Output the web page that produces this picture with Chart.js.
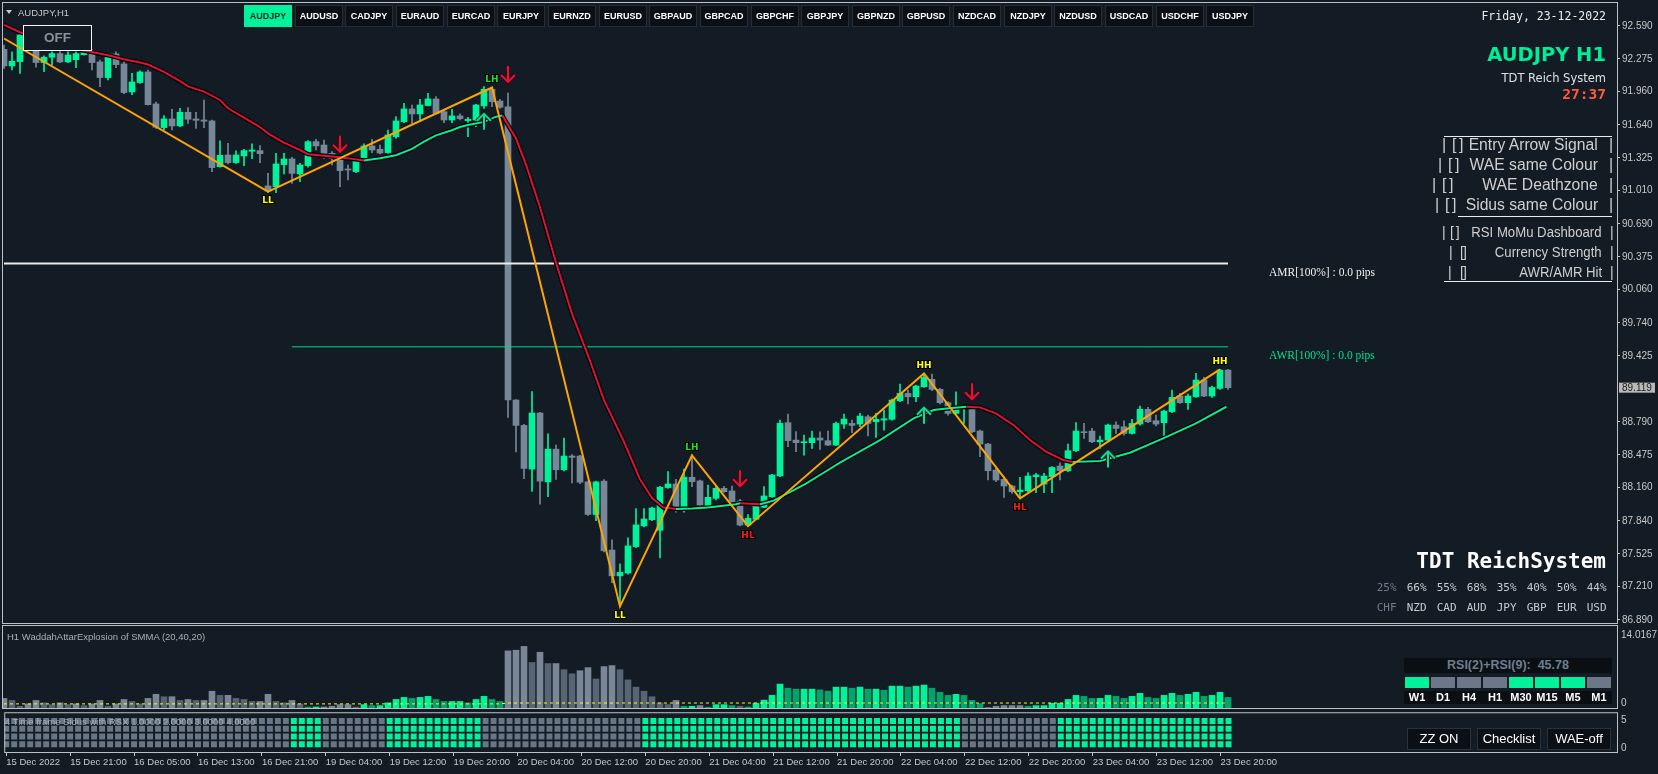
<!DOCTYPE html>
<html lang="en">
<head>
<meta charset="utf-8">
<title>AUDJPY,H1</title>
<script src="https://cdn.jsdelivr.net/npm/chart.js"></script>
<style>
  html, body { margin: 0; padding: 0; }
  body { width: 1658px; height: 774px; background: #131b24; position: relative; overflow: hidden;
         font-family: "Liberation Sans", Arial, sans-serif; color: #c8c8c8; }
  canvas { position: absolute; left: 0; }
  .t { position: absolute; white-space: nowrap; line-height: 1; }
  .pair { position: absolute; top: 5px; width: 48px; height: 22px; box-sizing: border-box; background: #0b1016;
          border: 1px solid #262d35; color: #fff; font: bold 9px "Liberation Sans", Arial, sans-serif;
          line-height: 20px; text-align: center; }
  .pair.on { background: #00f29a; border-color: #00f29a; color: #0b2a1d; }
  .btn { position: absolute; top: 728px; width: 64px; height: 22px; box-sizing: border-box; background: #0b1016;
         border: 1px solid #2a3139; color: #fff; font: 13px "Liberation Sans", Arial, sans-serif;
         line-height: 20px; text-align: center; }
  .rule { position: absolute; height: 1px; background: #ececec; }
</style>
</head>
<body>
<canvas id="priceChart" width="1658" height="630" style="top:0"></canvas>
<canvas id="waeChart" width="1658" height="86" style="top:625px"></canvas>
<canvas id="sidusChart" width="1658" height="65" style="top:709px"></canvas>

<script>
// ---- data ----
const symbol = 'AUDJPY,H1';
const pairs = ['AUDJPY','AUDUSD','CADJPY','EURAUD','EURCAD','EURJPY','EURNZD','EURUSD','GBPAUD','GBPCAD',
               'GBPCHF','GBPJPY','GBPNZD','GBPUSD','NZDCAD','NZDJPY','NZDUSD','USDCAD','USDCHF','USDJPY'];

const opens = [92.366,92.207,92.248,92.504,92.366,92.239,92.290,92.325,92.245,92.267,
  92.315,92.350,92.245,92.095,92.322,92.226,91.957,92.047,92.149,91.842,
  91.615,91.698,91.631,91.762,91.698,91.688,91.679,91.240,91.352,91.279,
  91.343,91.388,91.394,91.055,91.048,91.260,91.314,91.170,91.250,91.480,
  91.448,91.368,91.320,91.218,91.192,91.298,91.439,91.407,91.375,91.528,
  91.672,91.794,91.746,91.826,91.890,91.768,91.688,91.727,91.682,91.688,
  91.823,91.982,91.870,91.814,89.001,88.757,88.338,88.876,88.215,88.529,
  88.331,88.463,88.463,88.215,87.902,88.222,87.561,87.313,87.340,87.594,
  87.792,87.852,87.750,88.160,88.195,87.950,88.259,88.224,87.971,88.057,
  88.153,88.128,88.032,87.801,87.856,87.971,88.073,88.272,88.783,88.616,
  88.591,88.591,88.636,88.610,88.568,88.770,88.776,88.770,88.840,88.792,
  88.808,88.815,88.994,89.064,89.032,89.128,89.199,89.103,88.975,88.872,
  88.920,88.930,88.703,88.578,88.328,88.239,88.175,88.121,88.130,88.265,
  88.194,88.265,88.367,88.322,88.514,88.696,88.703,88.600,88.616,88.760,
  88.744,88.680,88.770,88.911,88.802,88.783,88.888,89.039,88.975,89.032,
  89.192,89.039,89.112,89.288];
const highs = [92.408,92.341,92.520,92.550,92.392,92.303,92.341,92.344,92.341,92.350,
  92.376,92.366,92.264,92.328,92.341,92.248,92.136,92.159,92.168,91.861,
  91.730,91.791,91.800,91.807,91.762,91.880,91.688,91.487,91.464,91.391,
  91.407,91.458,91.442,91.176,91.368,91.368,91.330,91.272,91.490,91.503,
  91.496,91.384,91.343,91.256,91.330,91.458,91.503,91.448,91.592,91.720,
  91.848,91.832,91.886,91.944,91.912,91.790,91.790,91.746,91.714,91.838,
  92.008,92.002,91.886,91.946,89.005,88.767,89.081,88.883,88.675,88.569,
  88.635,88.476,88.470,88.222,88.222,88.238,87.660,87.429,87.677,87.958,
  87.958,87.974,88.172,88.313,88.239,88.338,88.473,88.233,88.185,88.169,
  88.172,88.175,88.047,87.901,87.987,88.169,88.288,88.807,88.866,88.697,
  88.664,88.703,88.696,88.703,88.789,88.866,88.808,88.872,88.856,88.872,
  88.904,89.010,89.154,89.096,89.144,89.256,89.250,89.112,88.984,89.080,
  88.943,88.943,88.712,88.584,88.344,88.265,88.185,88.258,88.303,88.297,
  88.297,88.361,88.399,88.578,88.783,88.776,88.728,88.655,88.770,88.792,
  88.802,88.815,88.943,88.930,88.856,88.904,89.096,89.064,89.058,89.256,
  89.218,89.135,89.295,89.295];
const lows = [92.184,92.168,92.136,92.360,92.194,92.152,92.213,92.239,92.239,92.191,
  92.309,92.168,92.008,92.072,92.191,91.941,91.931,92.040,91.829,91.608,
  91.592,91.592,91.624,91.656,91.608,91.615,91.192,91.234,91.266,91.272,
  91.250,91.317,91.279,90.991,90.991,91.170,91.080,91.096,91.234,91.400,
  91.320,91.256,91.048,91.112,91.183,91.288,91.375,91.362,91.368,91.512,
  91.663,91.656,91.672,91.823,91.746,91.663,91.663,91.688,91.528,91.624,
  91.800,91.816,91.800,88.833,88.503,88.245,88.123,88.001,88.073,88.239,
  88.321,88.205,88.199,87.892,87.842,87.544,87.247,87.016,87.330,87.584,
  87.783,87.842,87.485,88.153,87.925,87.925,88.169,87.984,87.961,88.041,
  88.113,88.016,87.792,87.792,87.849,87.968,88.067,88.265,88.553,88.505,
  88.472,88.536,88.527,88.562,88.562,88.728,88.687,88.744,88.655,88.642,
  88.712,88.808,88.984,88.962,88.984,89.122,89.090,88.962,88.856,88.866,
  88.776,88.687,88.456,88.233,88.217,88.066,88.105,88.057,88.121,88.111,
  88.111,88.111,88.233,88.313,88.504,88.632,88.591,88.536,88.600,88.680,
  88.664,88.674,88.760,88.783,88.751,88.648,88.879,88.968,88.911,89.026,
  89.032,89.026,89.103,89.103];
const closes = [92.207,92.251,92.504,92.380,92.239,92.290,92.325,92.245,92.312,92.325,
  92.350,92.239,92.095,92.322,92.219,91.951,92.053,92.149,91.835,91.618,
  91.698,91.631,91.762,91.695,91.685,91.676,91.231,91.349,91.279,91.352,
  91.394,91.400,91.365,91.007,91.266,91.314,91.176,91.256,91.480,91.439,
  91.362,91.317,91.202,91.208,91.304,91.439,91.400,91.371,91.544,91.679,
  91.794,91.746,91.832,91.890,91.752,91.688,91.727,91.701,91.695,91.832,
  91.982,91.864,91.810,89.001,88.757,88.344,88.876,88.222,88.529,88.331,
  88.463,88.450,88.212,87.902,88.215,87.554,87.313,87.346,87.601,87.802,
  87.859,87.964,88.163,88.195,87.945,88.259,88.217,87.993,88.067,88.153,
  88.121,88.025,87.801,87.865,87.984,88.080,88.281,88.777,88.611,88.591,
  88.597,88.636,88.616,88.568,88.776,88.818,88.757,88.847,88.776,88.815,
  88.821,89.000,89.064,89.032,89.135,89.218,89.103,88.975,88.872,88.930,
  88.936,88.696,88.578,88.322,88.233,88.175,88.121,88.137,88.271,88.281,
  88.271,88.354,88.323,88.514,88.703,88.687,88.600,88.616,88.760,88.728,
  88.680,88.776,88.911,88.792,88.770,88.895,89.026,88.975,89.039,89.192,
  89.039,89.122,89.288,89.119];

// smoothed average, sampled where it was traced
const maBars = [0,2,5,8,11,13,15,17,18,20,22,23,25,27,28,30,32,33,35,37,38,40,42,44,45,47,49,51,52.5,54,
  56,57,58,60,61.5,62.3,64,65.3,67,69,71,73,75,77.5,79.5,81,82.4,84,86,88,91.5,92,94.5,96.2,98.3,100.3,
  102.4,104.5,109.5,113.7,116.2,117.8,120.3,122,124,126.2,128.25,130.3,132.4,133.6,137,140.75,144.9,149,152.8];
const maValues = [92.60,92.53,92.46,92.38,92.34,92.31,92.27,92.24,92.22,92.15,92.06,92.01,91.96,91.88,91.80,
  91.71,91.62,91.56,91.47,91.40,91.36,91.345,91.33,91.31,91.30,91.32,91.35,91.41,91.48,91.54,91.59,91.62,
  91.64,91.67,91.72,91.73,91.51,91.25,90.85,90.32,89.83,89.43,89.00,88.60,88.24,88.06,87.97,87.955,87.96,
  87.97,88.00,88.01,88.00,88.035,88.12,88.20,88.30,88.40,88.616,88.824,88.904,88.920,88.936,88.93,88.872,
  88.76,88.616,88.504,88.424,88.405,88.415,88.495,88.632,88.776,88.936];

const zzBars = [0, 33, 61, 77, 86, 93, 115, 127, 152];
const zzPrices = [92.47, 91.00, 92.00, 87.02, 88.47, 87.79, 89.256, 88.057, 89.295];
const zzTags = ['', 'LL', 'LH', 'LL', 'LH', 'HL', 'HH', 'HL', 'HH'];

const downArrowBars = [42, 63, 92, 121];
const downArrowPrices = [91.46, 92.13, 88.25, 89.085];
const upArrowBars = [60, 115, 138];
const upArrowPrices = [91.67, 88.85, 88.43];

const amrLevel = 90.31, awrLevel = 89.511;
const amrStartBar = 0, awrStartBar = 36, levelEndBar = 153;

const priceTicks = [92.590,92.275,91.960,91.640,91.325,91.010,90.690,90.375,90.060,89.740,89.425,
  88.790,88.475,88.160,87.840,87.525,87.210,86.890];
const timeTickBars = [0,8,16,24,32,40,48,56,64,72,80,88,96,104,112,120,128,136,144,152];
const timeLabels = ['15 Dec 2022','15 Dec 21:00','16 Dec 05:00','16 Dec 13:00','16 Dec 21:00','19 Dec 04:00',
  '19 Dec 12:00','19 Dec 20:00','20 Dec 04:00','20 Dec 12:00','20 Dec 20:00','21 Dec 04:00','21 Dec 12:00',
  '21 Dec 20:00','22 Dec 04:00','22 Dec 12:00','22 Dec 20:00','23 Dec 04:00','23 Dec 12:00','23 Dec 20:00'];

const waeValues = [1.64,1.29,0.30,0.70,1.29,0.88,0.58,0.88,0.58,0.70,
  0.41,0.70,1.29,0.30,0.70,1.46,1.11,0.70,1.64,2.34,
  1.93,1.93,1.29,1.46,1.29,1.29,2.87,2.16,2.16,1.64,
  1.46,1.11,1.11,2.34,1.11,0.88,1.29,0.70,0.18,0.18,
  0.18,0.30,0.58,0.58,0.18,0.58,0.41,0.41,0.88,1.46,
  1.81,1.64,1.81,1.99,1.46,1.11,1.11,1.11,0.88,1.46,
  1.99,1.46,1.11,9.77,9.88,10.53,7.78,9.53,7.60,7.60,
  6.55,5.85,6.37,6.90,4.97,7.08,7.25,6.55,4.80,3.57,
  2.87,1.93,0.88,0.58,1.29,0.30,0.30,0.41,0.12,0.58,
  0.58,0.41,0.30,0.18,0.82,1.35,2.16,4.09,3.39,3.22,
  3.22,3.22,3.10,2.87,3.57,3.57,3.39,3.57,3.22,3.22,
  3.04,3.74,3.74,3.57,3.74,3.92,3.39,2.69,2.16,2.34,
  2.16,1.29,0.76,0.12,0.30,0.41,0.41,0.41,0.30,0.41,
  0.41,0.82,0.82,1.46,2.16,1.99,1.64,1.64,2.16,1.99,
  1.64,1.99,2.51,1.81,1.64,2.16,2.51,2.16,2.34,2.69,
  1.99,2.16,2.69,1.81];
const waeUpRanges = [[38,39],[45,62],[85,86],[88,91],[93,122],[128,153]];
const waeDeadBars = [0, 62, 63, 153];
const waeDeadValues = [0.70, 0.70, 0.85, 0.85];
const waeMax = 14.0167;

const sidusGreenRanges = [[36,39],[48,59],[80,119],[132,153]];
const sidusRows = [1, 2, 3, 4];

const currencyNames = ['CHF','NZD','CAD','AUD','JPY','GBP','EUR','USD'];
const currencyPct = [25, 66, 55, 68, 35, 40, 50, 44];
const rsiFrames = ['W1','D1','H4','H1','M30','M15','M5','M1'];
const rsiUp = [1, 0, 0, 0, 1, 1, 1, 0];
const rsiValue = 45.78;
const checklistItems = ['Entry Arrow Signal','WAE same Colour','WAE Deathzone','Sidus same Colour',
  'RSI MoMu Dashboard','Currency Strength','AWR/AMR Hit'];
const panelButtons = ['ZZ ON','Checklist','WAE-off'];

// ---- helpers ----
const GREEN = '#00f29a', GREY = '#778899', AXIS = '#c8c8c8';
const FONT = '"Liberation Sans", Arial, sans-serif';
const X_MIN = -0.25, X_MAX = 201.625;
const inRanges = (i, ranges) => ranges.some(r => i >= r[0] && i <= r[1]);

const framePlugin = {
  id: 'frame',
  afterDraw(chart) {
    const { ctx, chartArea: a } = chart;
    ctx.save();
    ctx.strokeStyle = '#bcc1c6';
    ctx.lineWidth = 1;
    ctx.strokeRect(a.left + 0.5, a.top - 0.5, a.right - a.left, a.bottom - a.top + 1);
    ctx.restore();
  }
};

function drawDown(ctx, px, py) {
  [['#3a0008', 4], ['#e0143c', 2]].forEach(([c, w]) => {
    ctx.strokeStyle = c; ctx.lineWidth = w;
    ctx.beginPath();
    ctx.moveTo(px, py - 8); ctx.lineTo(px, py + 8);
    ctx.moveTo(px - 7, py + 1); ctx.lineTo(px, py + 8); ctx.lineTo(px + 7, py + 1);
    ctx.stroke();
  });
}
function drawUp(ctx, px, py) {
  [['#05291d', 4], ['#19d596', 2]].forEach(([c, w]) => {
    ctx.strokeStyle = c; ctx.lineWidth = w;
    ctx.beginPath();
    ctx.moveTo(px, py + 8); ctx.lineTo(px, py - 8);
    ctx.moveTo(px - 7, py - 1); ctx.lineTo(px, py - 8); ctx.lineTo(px + 7, py - 1);
    ctx.stroke();
  });
}

const marksPlugin = {
  id: 'marks',
  afterDatasetsDraw(chart) {
    const { ctx, scales: { x, y }, chartArea } = chart;
    ctx.save();
    // AMR / AWR captions
    const capX = x.getPixelForValue(levelEndBar) + 41;
    ctx.font = '11.5px "Liberation Serif", serif';
    ctx.textBaseline = 'middle';
    ctx.textAlign = 'left';
    ctx.fillStyle = '#f0f0f0';
    ctx.fillText('AMR[100%] : 0.0 pips', capX, y.getPixelForValue(amrLevel) + 9);
    ctx.fillStyle = '#00e08f';
    ctx.fillText('AWR[100%] : 0.0 pips', capX, y.getPixelForValue(awrLevel) + 9);

    // arrows
    downArrowBars.forEach((b, i) => drawDown(ctx, x.getPixelForValue(b), y.getPixelForValue(downArrowPrices[i])));
    upArrowBars.forEach((b, i) => drawUp(ctx, x.getPixelForValue(b), y.getPixelForValue(upArrowPrices[i])));

    // zigzag swing tags
    ctx.font = 'bold 9px "DejaVu Sans", sans-serif';
    ctx.textAlign = 'center';
    const tagColor = { LL: '#ffff00', HH: '#ffff00', LH: '#22dd22', HL: '#ff1a1a' };
    zzTags.forEach((tag, i) => {
      if (!tag) return;
      const px = x.getPixelForValue(zzBars[i]);
      const py = y.getPixelForValue(zzPrices[i]) + (tag[1] === 'H' ? -8 : 9);
      ctx.lineWidth = 2; ctx.strokeStyle = '#000';
      ctx.strokeText(tag, px, py);
      ctx.fillStyle = tagColor[tag];
      ctx.fillText(tag, px, py);
    });

    // current price box on the axis
    const last = closes[closes.length - 1];
    const py = y.getPixelForValue(last);
    ctx.fillStyle = '#b9b9b9';
    ctx.fillRect(chartArea.right + 2, py - 5, 36, 10);
    ctx.fillStyle = '#202020';
    ctx.font = '10px ' + FONT;
    ctx.textAlign = 'left';
    ctx.fillText(last.toFixed(3), chartArea.right + 5, py + 0.5);
    ctx.restore();
  }
};

Chart.defaults.animation = false;
Chart.defaults.font.family = FONT;
Chart.defaults.plugins.legend.display = false;
Chart.defaults.plugins.tooltip.enabled = false;

const xHidden = { type: 'linear', min: X_MIN, max: X_MAX, display: false, offset: false, grid: { offset: false } };
const plainRightAxis = (min, max) => ({
  type: 'linear', position: 'right', min, max, beginAtZero: false,
  ticks: { display: false }, grid: { display: false }, border: { display: false },
  afterFit(s) { s.width = 41; s.paddingTop = 0; s.paddingBottom = 0; }
});

// ---- main price chart ----
const candleColors = closes.map((c, i) => c >= opens[i] ? GREEN : GREY);
const xy = (bars, vals) => bars.map((b, i) => ({ x: b, y: vals[i] }));

new Chart(document.getElementById('priceChart'), {
  type: 'bar',
  data: {
    datasets: [
      { label: 'zigzag', type: 'line', order: 1, data: xy(zzBars, zzPrices),
        borderColor: '#ffa500', borderWidth: 2, pointRadius: 0 },
      { label: 'MA', type: 'line', order: 2, data: xy(maBars, maValues), borderWidth: 2, pointRadius: 0,
        borderColor: GREEN,
        segment: { borderColor: c => c.p1.parsed.y < c.p0.parsed.y ? '#e0103c' : '#00ee98' } },
      { label: 'MA edge', type: 'line', order: 3, data: xy(maBars, maValues), borderWidth: 4.5,
        borderColor: '#000000', pointRadius: 0 },
      { label: 'AMR', type: 'line', order: 4, data: [{ x: amrStartBar, y: amrLevel }, { x: levelEndBar, y: amrLevel }],
        borderColor: '#ececec', borderWidth: 2, pointRadius: 0 },
      { label: 'AWR', type: 'line', order: 4, data: [{ x: awrStartBar, y: awrLevel }, { x: levelEndBar, y: awrLevel }],
        borderColor: '#00d98a', borderWidth: 1, pointRadius: 0 },
      { label: 'body', order: 5, grouped: false, barThickness: 6, minBarLength: 1,
        data: opens.map((o, i) => ({ x: i, y: [o, closes[i]] })),
        backgroundColor: candleColors, borderWidth: 0 },
      { label: 'wick', order: 6, grouped: false, barThickness: 1,
        data: lows.map((l, i) => ({ x: i, y: [l, highs[i]] })),
        backgroundColor: candleColors, borderWidth: 0 }
    ]
  },
  options: {
    responsive: false,
    layout: { padding: { left: 2, top: 3, right: 0, bottom: 7 } },
    scales: {
      x: xHidden,
      y: {
        type: 'linear', position: 'right', min: 86.8607, max: 92.8107, beginAtZero: false,
        afterBuildTicks(s) { s.ticks = priceTicks.map(v => ({ value: v })); },
        ticks: { color: AXIS, padding: 2, font: { size: 10 }, callback: v => Number(v).toFixed(3) },
        grid: { display: true, drawOnChartArea: false, drawTicks: true, tickLength: 3, color: AXIS },
        border: { display: false },
        afterFit(s) { s.width = 41; s.paddingTop = 0; s.paddingBottom = 0; }
      }
    }
  },
  plugins: [framePlugin, marksPlugin]
});

// ---- WAE histogram ----
const waeColors = waeValues.map((v, i) => {
  const rising = i === 0 || v >= waeValues[i - 1];
  if (inRanges(i, waeUpRanges)) return rising ? '#00f29a' : '#00a46d';
  return rising ? '#7a8797' : '#566473';
});
new Chart(document.getElementById('waeChart'), {
  type: 'bar',
  data: {
    datasets: [
      { label: 'dead zone', type: 'line', order: 1, data: xy(waeDeadBars, waeDeadValues),
        borderColor: '#ffff00', borderWidth: 1, borderDash: [3, 3], pointRadius: 0 },
      { label: 'explosion', order: 2, grouped: false, barThickness: 6,
        data: waeValues.map((v, i) => ({ x: i, y: v })), backgroundColor: waeColors, borderWidth: 0 }
    ]
  },
  options: {
    responsive: false,
    layout: { padding: { left: 2, top: 1, right: 0, bottom: 3 } },
    scales: { x: xHidden, y: plainRightAxis(0, waeMax) }
  },
  plugins: [framePlugin]
});

// ---- 4 time frame Sidus grid ----
new Chart(document.getElementById('sidusChart'), {
  type: 'scatter',
  data: {
    datasets: sidusRows.map(row => ({
      label: 'row ' + row,
      data: closes.map((c, i) => ({ x: i, y: row })),
      pointStyle: 'rect', pointRadius: 4.24, pointBorderWidth: 0,
      pointBackgroundColor: closes.map((c, i) => inRanges(i, sidusGreenRanges) ? GREEN : '#687584')
    }))
  },
  options: {
    responsive: false,
    layout: { padding: { left: 2, top: 2, right: 0, bottom: 0 } },
    scales: {
      x: {
        type: 'linear', min: X_MIN, max: X_MAX, offset: false,
        afterBuildTicks(s) { s.ticks = timeTickBars.map(v => ({ value: v })); },
        ticks: { align: 'start', maxRotation: 0, autoSkip: false, padding: 1, color: AXIS,
                 font: { size: 9.5 }, callback: (v, i) => timeLabels[i] },
        grid: { display: true, drawOnChartArea: false, drawTicks: true, tickLength: 4, color: AXIS },
        border: { display: false },
        afterFit(s) { s.height = 22; s.paddingLeft = 0; s.paddingRight = 0; }
      },
      y: plainRightAxis(0, 5)
    }
  },
  plugins: [framePlugin]
});

// ---- text panels ----
function put(text, css) {
  const el = document.createElement('div');
  el.className = 't';
  el.textContent = text;
  Object.assign(el.style, css);
  document.body.appendChild(el);
  return el;
}
function box(cls, text, css) {
  const el = put(text, css);
  el.className = cls;
  return el;
}
const mono = '"DejaVu Sans Mono", monospace';

// symbol caption and OFF switch
const tri = document.createElement('div');
Object.assign(tri.style, { position: 'absolute', left: '6px', top: '10px', width: 0, height: 0,
  borderLeft: '3px solid transparent', borderRight: '3px solid transparent', borderTop: '4px solid #c8c8c8' });
document.body.appendChild(tri);
put(symbol, { left: '18px', top: '7px', font: '9.5px ' + FONT, color: '#c8c8c8' });
put('OFF', { left: '23px', top: '25px', width: '69px', height: '26px', boxSizing: 'border-box',
  border: '1px solid #f4f4f4', background: '#131b24', color: '#8c9197', font: 'bold 13.5px ' + FONT,
  lineHeight: '24px', textAlign: 'center' });

// pair buttons
pairs.forEach((p, i) => box('pair' + (i === 0 ? ' on' : ''), p, { left: Math.round(244 + i * 50.65) + 'px' }));

// header on the right
put('Friday, 23-12-2022', { right: '52px', top: '9px', font: '11.5px ' + mono, color: '#ececec' });
put('AUDJPY H1', { right: '52px', top: '43px', font: 'bold 19.5px "DejaVu Sans", sans-serif', color: '#00ec97' });
put('TDT Reich System', { right: '52px', top: '71px', font: '11.5px "DejaVu Sans", sans-serif', color: '#dde1e5' });
put('27:37', { right: '52px', top: '86px', font: 'bold 14.5px ' + mono, color: '#ff5a3c' });

// checklist
const checkRows = [
  { cy: 144, size: 16, sx: 0.98, pipe: 1442, mark: '[ ]', markX: 1452, end: 1598, pipeR: 1609 },
  { cy: 164, size: 16, sx: 0.98, pipe: 1438, mark: '[ ]', markX: 1448, end: 1598, pipeR: 1609 },
  { cy: 184, size: 16, sx: 0.98, pipe: 1432, mark: '[ ]', markX: 1442, end: 1598, pipeR: 1609 },
  { cy: 204, size: 16, sx: 0.98, pipe: 1435, mark: '[ ]', markX: 1445, end: 1598, pipeR: 1609 },
  { cy: 231, size: 14, sx: 0.94, pipe: 1442, mark: '[ ]', markX: 1450, end: 1602, pipeR: 1610 },
  { cy: 251, size: 14, sx: 0.94, pipe: 1449, mark: '[]', markX: 1460, end: 1602, pipeR: 1610 },
  { cy: 271, size: 14, sx: 0.94, pipe: 1448, mark: '[]', markX: 1460, end: 1602, pipeR: 1610 }
];
checklistItems.forEach((label, i) => {
  const r = checkRows[i];
  const base = { top: (r.cy - 0.49 * r.size) + 'px', font: r.size + 'px ' + FONT, color: '#cfcfcf' };
  put('|', Object.assign({ left: r.pipe + 'px' }, base));
  put(r.mark, Object.assign({ left: r.markX + 'px', letterSpacing: '-1px' }, base));
  put(label, Object.assign({ right: (1658 - r.end) + 'px', transform: 'scaleX(' + r.sx + ')',
    transformOrigin: 'right center' }, base));
  put('|', Object.assign({ left: r.pipeR + 'px' }, base));
});
[[136, 1444], [216, 1458], [281, 1444]].forEach(([y, x0]) => {
  const el = document.createElement('div');
  el.className = 'rule';
  Object.assign(el.style, { top: y + 'px', left: x0 + 'px', width: (1612 - x0) + 'px' });
  document.body.appendChild(el);
});

// currency strength
put('TDT ReichSystem', { right: '52px', top: '549px', font: 'bold 21px ' + mono, color: '#ffffff' });
currencyNames.forEach((c, i) => {
  const cx = 1386.7 + i * 30;
  const col = i === 0 ? '#6f7d8c' : '#c6cbd1';
  put(currencyPct[i] + '%', { left: (cx - 15) + 'px', width: '30px', textAlign: 'center', top: '581px',
    font: '11px ' + mono, color: col });
  put(c, { left: (cx - 15) + 'px', width: '30px', textAlign: 'center', top: '600.5px', font: '11px ' + mono, color: col });
});

// panel captions and scale values
put('H1 WaddahAttarExplosion of SMMA (20,40,20)', { left: '7px', top: '630.5px', font: '9.5px ' + FONT, color: '#a9b0b7' });
put('4 Time frame Sidus  with RSX  1.0000 2.0000 3.0000 4.0000',
  { left: '5px', top: '715.5px', font: '9.5px ' + FONT, color: 'rgba(175,184,194,0.85)' });
put(String(waeMax), { left: '1621px', top: '628.5px', font: '10px ' + FONT, color: AXIS });
put('0', { left: '1621px', top: '697px', font: '10px ' + FONT, color: AXIS });
put('5', { left: '1621px', top: '713.5px', font: '10px ' + FONT, color: AXIS });
put('0', { left: '1621px', top: '742px', font: '10px ' + FONT, color: AXIS });

// RSI dashboard
put('RSI(2)+RSI(9):  ' + rsiValue.toFixed(2), { left: '1404px', top: '658px', width: '208px', height: '15px',
  background: '#0a0f14', textAlign: 'center', lineHeight: '15px', font: 'bold 12.5px ' + FONT, color: '#6e7e8e',
  whiteSpace: 'pre' });
put('', { left: '1404px', top: '691px', width: '208px', height: '13px', background: '#0a0f14' });
rsiFrames.forEach((f, i) => {
  const x0 = 1405 + i * 26;
  put('', { left: x0 + 'px', top: '677px', width: '24px', height: '10.5px', background: rsiUp[i] ? GREEN : '#6c7887' });
  put(f, { left: (x0 - 1) + 'px', top: '691px', width: '26px', height: '13px', lineHeight: '13px', textAlign: 'center',
    font: 'bold 11px ' + FONT, color: '#ffffff' });
});

// panel buttons
panelButtons.forEach((b, i) => box('btn', b, { left: (1407 + i * 70) + 'px' }));
</script>
</body>
</html>
